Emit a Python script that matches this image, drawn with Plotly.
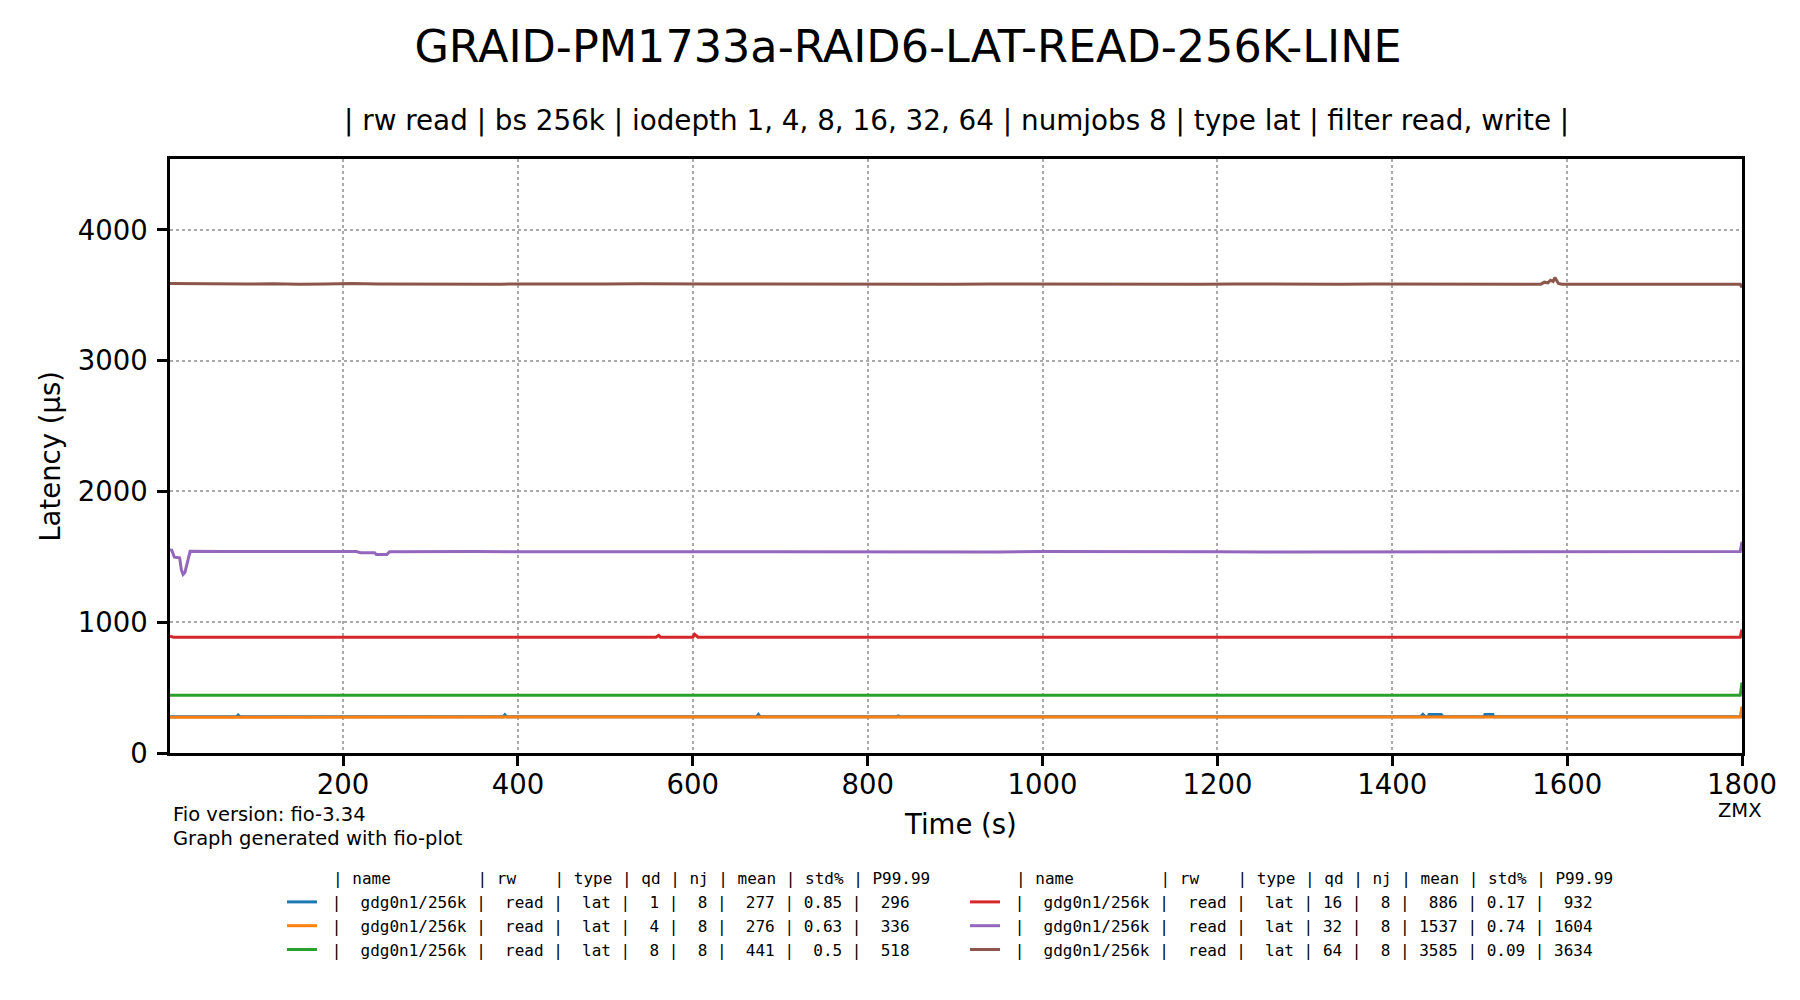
import plotly.graph_objects as go

# ---------------- data ----------------
TITLE = "GRAID-PM1733a-RAID6-LAT-READ-256K-LINE"
SUBTITLE = "| rw read | bs 256k | iodepth 1, 4, 8, 16, 32, 64 | numjobs 8 | type lat | filter read, write |"

names = ["gdg0n1/256k"] * 6
rws = ["read"] * 6
types = ["lat"] * 6
qds = [1, 4, 8, 16, 32, 64]
njs = [8, 8, 8, 8, 8, 8]
means = [277, 276, 441, 886, 1537, 3585]
stds = ["0.85", "0.63", "0.5", "0.17", "0.74", "0.09"]
p9999 = [296, 336, 518, 932, 1604, 3634]
colors = ["#1f77b4", "#ff7f0e", "#2ca02c", "#d62728", "#9467bd", "#8c564b"]

x_ticks = [200, 400, 600, 800, 1000, 1200, 1400, 1600, 1800]
y_ticks = [0, 1000, 2000, 3000, 4000]

t_qd1 = [2, 78, 80, 82, 383, 385, 387, 673, 675, 677, 833, 835, 837, 1432, 1435, 1438,
         1441, 1442, 1456, 1458, 1505, 1506, 1515, 1516, 1798, 1800]
v_qd1 = [277, 277, 290, 277, 277, 292, 277, 277, 295, 277, 277, 283, 277, 277, 296, 277,
         277, 294, 294, 277, 277, 295, 295, 277, 277, 300]

t_qd4 = [2, 100, 200, 300, 400, 500, 600, 700, 800, 900, 1000, 1100, 1200, 1300, 1400,
         1500, 1600, 1700, 1798, 1800]
v_qd4 = [274, 274, 275, 277, 278, 279, 279, 278, 278, 277, 276, 276, 276, 275, 275,
         275, 276, 276, 276, 355]

t_qd8 = [2, 200, 400, 600, 800, 1000, 1200, 1400, 1600, 1798, 1800]
v_qd8 = [441, 441, 441, 441, 441, 441, 441, 441, 441, 441, 540]

t_qd16 = [2, 4, 6, 558, 561, 563, 600, 602, 604, 606, 1000, 1400, 1798, 1800]
v_qd16 = [893, 887, 886, 886, 899, 886, 886, 908, 897, 886, 886, 886, 886, 945]

t_qd32 = [2, 4, 7, 9, 13, 15, 17, 19, 22, 25, 60, 100, 140, 180, 215, 220, 236, 238,
          250, 253, 300, 350, 400, 450, 500, 550, 600, 650, 700, 750, 800, 850, 900,
          950, 1000, 1050, 1100, 1150, 1200, 1250, 1300, 1350, 1400, 1450, 1500, 1550,
          1600, 1650, 1700, 1750, 1798, 1800]
v_qd32 = [1555, 1550, 1497, 1495, 1492, 1400, 1365, 1380, 1470, 1542, 1540, 1541, 1538,
          1540, 1540, 1532, 1532, 1518, 1518, 1538, 1540, 1541, 1538, 1539, 1540, 1541,
          1542, 1539, 1538, 1537, 1538, 1537, 1538, 1537, 1541, 1539, 1538, 1537, 1538,
          1537, 1537, 1538, 1539, 1540, 1538, 1542, 1541, 1540, 1539, 1540, 1540, 1615]

t_qd64 = [2, 30, 60, 90, 120, 150, 180, 210, 240, 270, 300, 340, 380, 420, 460, 500, 540,
          580, 620, 660, 700, 740, 780, 820, 860, 900, 940, 980, 1020, 1060, 1100, 1140,
          1180, 1220, 1260, 1300, 1340, 1380, 1420, 1460, 1500, 1540, 1570, 1574, 1578,
          1581, 1584, 1586, 1588, 1590, 1594, 1620, 1660, 1700, 1740, 1780, 1798, 1800]
v_qd64 = [3590, 3588, 3591, 3586, 3589, 3585, 3587, 3590, 3586, 3585, 3588, 3586, 3585,
          3587, 3585, 3586, 3588, 3585, 3587, 3586, 3585, 3586, 3584, 3586, 3585, 3584,
          3586, 3585, 3584, 3586, 3585, 3586, 3585, 3587, 3585, 3586, 3585, 3586, 3585,
          3584, 3585, 3584, 3585, 3600, 3595, 3615, 3605, 3636, 3610, 3590, 3585, 3586,
          3585, 3584, 3585, 3584, 3584, 3560]

series_t = [t_qd1, t_qd4, t_qd8, t_qd16, t_qd32, t_qd64]
series_v = [v_qd1, v_qd4, v_qd8, v_qd16, v_qd32, v_qd64]

HEADER = "| name         | rw    | type | qd | nj | mean | std% | P99.99"

# ---------------- geometry ----------------
W, H = 1800, 1000
L, R, T, B = 162, 1734, 151, 745
PW, PH = R - L, B - T


def px(xp):
    return (xp - L) / PW


def py(yp):
    return (B - yp) / PH


def nb(s):
    return s.replace(" ", "\u00a0")


fig = go.Figure()
for i in range(6):
    row = (f" |  {names[i]} |  {rws[i]} |  {types[i]} | {qds[i]:>2} | {njs[i]:>2} | "
           f"{means[i]:>4} | {stds[i]:>4} | {p9999[i]:>4}")
    fig.add_trace(go.Scatter(
        x=series_t[i], y=series_v[i], mode="lines",
        line=dict(color=colors[i], width=3),
        name=nb(row),
        legend="legend" if i < 3 else "legend2",
        legendgroup=f"g{i}",
    ))

mono = dict(family="DejaVu Sans Mono", size=16, color="black")
leg_common = dict(xref="container", yref="container", y=1 - 877 / H,
                  xanchor="left", yanchor="top", font=mono, itemwidth=30,
                  tracegroupgap=0, traceorder="grouped", bgcolor="rgba(0,0,0,0)",
                  borderwidth=0)
fig.update_layout(
    width=W, height=H,
    paper_bgcolor="white", plot_bgcolor="white",
    margin=dict(l=L, r=W - R, t=T, b=H - B, autoexpand=False),
    font=dict(family="DejaVu Sans", color="black"),
    title=dict(text=TITLE, x=0.5, xref="container", xanchor="center",
               y=1 - 38 / H, yref="container", yanchor="middle",
               font=dict(size=44.5, family="DejaVu Sans", color="black")),
    showlegend=True,
    legend=dict(x=274 / W, **leg_common),
    legend2=dict(x=957 / W, **leg_common),
)

axis_common = dict(
    showline=True, linecolor="black", linewidth=2.5, mirror=True,
    ticks="outside", ticklen=10, tickwidth=3, tickcolor="black",
    showgrid=True, gridcolor="#aaaaaa", griddash="dot", gridwidth=2,
    zeroline=False, tickfont=dict(size=27.5, family="DejaVu Sans", color="black"),
    automargin=False,
)
fig.update_xaxes(range=[2, 1800], tickmode="array", tickvals=x_ticks,
                 ticktext=[str(v) for v in x_ticks], ticklabelstandoff=-5,
                 **axis_common)
fig.update_yaxes(range=[0, 4542], tickmode="array", tickvals=y_ticks,
                 ticktext=[str(v) for v in y_ticks], ticklabelstandoff=4,
                 **axis_common)

ann = []
ann.append(dict(text=SUBTITLE, x=0.5, y=py(113), xref="paper", yref="paper",
                xanchor="center", yanchor="middle", showarrow=False,
                font=dict(size=27.8, family="DejaVu Sans", color="black")))
ann.append(dict(text="Time (s)", x=px(953), y=py(816), xref="paper", yref="paper",
                xanchor="center", yanchor="middle", showarrow=False,
                font=dict(size=27.5, family="DejaVu Sans", color="black")))
ann.append(dict(text="Latency (µs)", x=px(41.7), y=py(448), xref="paper", yref="paper",
                xanchor="center", yanchor="middle", showarrow=False, textangle=-90,
                font=dict(size=27.5, family="DejaVu Sans", color="black")))
ann.append(dict(text="Fio version: fio-3.34", x=px(162.7), y=py(806.7), xref="paper",
                yref="paper", xanchor="left", yanchor="middle", showarrow=False,
                font=dict(size=19.5, family="DejaVu Sans", color="black")))
ann.append(dict(text="Graph generated with fio-plot", x=px(162.7), y=py(830.7),
                xref="paper", yref="paper", xanchor="left", yanchor="middle",
                showarrow=False, font=dict(size=19.5, family="DejaVu Sans", color="black")))
ann.append(dict(text="ZMX", x=px(1732), y=py(802), xref="paper", yref="paper",
                xanchor="center", yanchor="middle", showarrow=False,
                font=dict(size=19.5, family="DejaVu Sans", color="black")))
ann.append(dict(text=nb(HEADER), x=px(323), y=py(870), xref="paper", yref="paper",
                xanchor="left", yanchor="middle", showarrow=False, font=mono))
ann.append(dict(text=nb(HEADER), x=px(1006), y=py(870), xref="paper", yref="paper",
                xanchor="left", yanchor="middle", showarrow=False, font=mono))
fig.update_layout(annotations=ann)

fig.write_html("out.html")
